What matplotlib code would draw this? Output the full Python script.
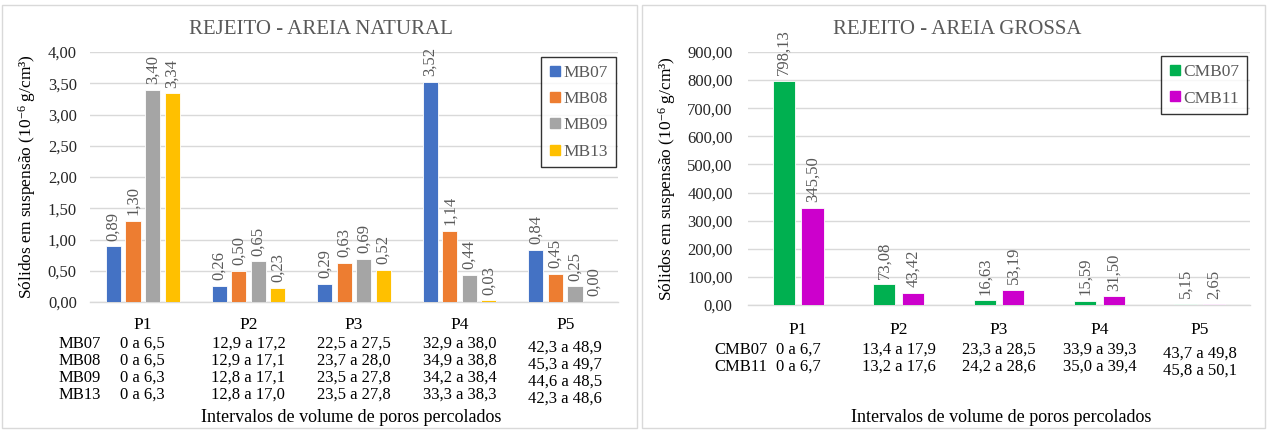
import matplotlib.pyplot as plt
import matplotlib.patches as patches
from matplotlib.lines import Line2D
from matplotlib.transforms import blended_transform_factory
import numpy as np

plt.rcParams['font.family'] = ['Liberation Serif', 'DejaVu Serif']
plt.rcParams['mathtext.fontset'] = 'custom'
plt.rcParams['mathtext.rm'] = 'Liberation Serif'
plt.rcParams['mathtext.it'] = 'Liberation Serif:italic'

W, H = 1267, 430

categories = ["P1", "P2", "P3", "P4", "P5"]

# Rejeito - areia natural
natural_series = ["MB07", "MB08", "MB09", "MB13"]
natural_colors = ["#4472C4", "#ED7D31", "#A5A5A5", "#FFC000"]
mb07 = [0.89, 0.26, 0.29, 3.52, 0.84]
mb08 = [1.30, 0.50, 0.63, 1.14, 0.45]
mb09 = [3.40, 0.65, 0.69, 0.44, 0.25]
mb13 = [3.34, 0.23, 0.52, 0.03, 0.00]
natural_ranges = [
    ["0 a 6,5", "12,9 a 17,2", "22,5 a 27,5", "32,9 a 38,0", "42,3 a 48,9"],
    ["0 a 6,5", "12,9 a 17,1", "23,7 a 28,0", "34,9 a 38,8", "45,3 a 49,7"],
    ["0 a 6,3", "12,8 a 17,1", "23,5 a 27,8", "34,2 a 38,4", "44,6 a 48,5"],
    ["0 a 6,3", "12,8 a 17,0", "23,5 a 27,8", "33,3 a 38,3", "42,3 a 48,6"],
]

# Rejeito - areia grossa
coarse_series = ["CMB07", "CMB11"]
coarse_colors = ["#00B050", "#CC00CC"]
cmb07 = [798.13, 73.08, 16.63, 15.59, 5.15]
cmb11 = [345.50, 43.42, 53.19, 31.50, 2.65]
coarse_ranges = [
    ["0 a 6,7", "13,4 a 17,9", "23,3 a 28,5", "33,9 a 39,3", "43,7 a 49,8"],
    ["0 a 6,7", "13,2 a 17,6", "24,2 a 28,6", "35,0 a 39,4", "45,8 a 50,1"],
]

GREY_TXT = "#595959"
GRID = "#D9D9D9"
YLABEL = "Sólidos em suspensão (10$^{-6}$ g/cm³)"
XLABEL = "Intervalos de volume de poros percolados"


def fx(x):
    return x / W


def fy(y):
    return 1 - y / H


def fmt(v):
    return f"{v:.2f}".replace(".", ",")


def draw_panel(fig, box, title, title_x, series, colors, values, width, step,
               ymax, ystep, ranges, row_y, row_x, xlabel_x, legend_box, label_pad):
    left, top, right, bottom = box
    ax = fig.add_axes([fx(left), fy(bottom), fx(right - left), (bottom - top) / H])
    x = np.arange(len(categories))
    n = len(series)
    for i, (name, col, vals) in enumerate(zip(series, colors, values)):
        pos = x + (i - (n - 1) / 2) * step
        ax.bar(pos, vals, width=width, color=col, edgecolor="white",
               linewidth=0.6, zorder=3, label=name)
        for px_, v in zip(pos, vals):
            ax.annotate(fmt(v), (px_, v), xytext=(0, 4), textcoords="offset points",
                        rotation=90, ha="center", va="bottom",
                        fontsize=12, color=GREY_TXT)

    ax.set_xlim(-0.5, len(categories) - 0.5)
    ax.set_ylim(0, ymax)
    ax.set_yticks(np.arange(0, ymax + ystep / 2, ystep))
    ax.set_yticklabels([fmt(t) for t in ax.get_yticks()], fontsize=12, color="#262626")
    ax.set_xticks([])
    ax.tick_params(axis="y", length=0, pad=label_pad)
    ax.grid(axis="y", color=GRID, linewidth=1, zorder=0)
    for s in ["top", "right", "left"]:
        ax.spines[s].set_visible(False)
    ax.spines["bottom"].set_color(GRID)
    ax.spines["bottom"].set_linewidth(1)

    # category names and percolated volume table below the axis
    tr = blended_transform_factory(ax.transData, fig.transFigure)
    for i, c in enumerate(categories):
        ax.text(i, fy(row_y[0]), c, transform=tr, ha="center", va="center",
                fontsize=12.5, color="black")
    for r, (name, row) in enumerate(zip(series, ranges)):
        yy = row_y[r + 1]
        fig.text(fx(row_x), fy(yy), name, ha="left", va="center", fontsize=12, color="black")
        for i, txt in enumerate(row):
            shift = 4 if i == len(categories) - 1 else 0
            ax.text(i, fy(yy + shift), txt, transform=tr, ha="center", va="center",
                    fontsize=12, color="black")

    fig.text(fx(title_x), fy(29), title, ha="center", va="center",
             fontsize=15, color=GREY_TXT)
    fig.text(fx(xlabel_x), fy(417), XLABEL, ha="center",
             va="center", fontsize=13, color="black")

    handles = [Line2D([], [], marker="s", linestyle="none", markersize=7,
                      markerfacecolor=c, markeredgecolor=c) for c in colors]
    leg = fig.legend(handles, series, loc="upper left",
                     bbox_to_anchor=(fx(legend_box[0]), fy(legend_box[1])),
                     bbox_transform=fig.transFigure, frameon=True, fancybox=False,
                     fontsize=12.5, handlelength=0.7, handletextpad=0.15,
                     labelspacing=legend_box[2], borderpad=0.45, borderaxespad=0)
    leg.get_frame().set_edgecolor("black")
    leg.get_frame().set_linewidth(1)
    for t in leg.get_texts():
        t.set_color(GREY_TXT)
    return ax


fig = plt.figure(figsize=(W / 100, H / 100), dpi=100)

# panel borders
for x0, x1 in [(2, 637), (642, 1265)]:
    fig.patches.append(patches.Rectangle((fx(x0), fy(428)), fx(x1 - x0), (428 - 5) / H,
                                         transform=fig.transFigure, fill=False,
                                         edgecolor=GRID, linewidth=1))

ax1 = draw_panel(fig, (90, 52, 618, 302), "REJEITO - AREIA NATURAL", 321,
                 natural_series, natural_colors, [mb07, mb08, mb09, mb13],
                 0.143, 0.185, 4.0, 0.5, natural_ranges,
                 [325, 344, 361, 378, 395], 59, 351, (541, 57, 0.58), 9.5)
ax1.set_ylabel(YLABEL, fontsize=12.5, color="black", labelpad=7)

ax2 = draw_panel(fig, (748, 52, 1250, 305), "REJEITO - AREIA GROSSA", 957,
                 coarse_series, coarse_colors, [cmb07, cmb11],
                 0.22, 0.284, 900.0, 100.0, coarse_ranges,
                 [330, 350, 367], 714, 1001, (1161, 56, 0.6), 11)
ax2.set_ylabel(YLABEL, fontsize=12.5, color="black", labelpad=7)

fig.savefig("out.png", dpi=100)
